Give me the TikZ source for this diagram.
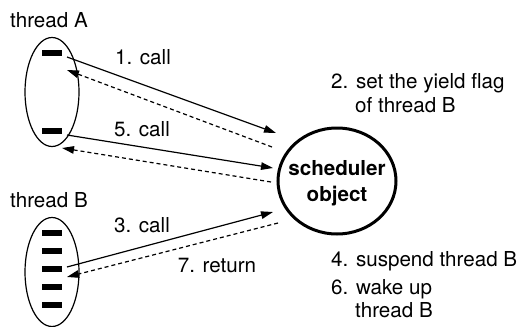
\documentclass[tikz,border=0pt]{standalone}
\usepackage{fontspec}
\setmainfont{TeX Gyre Heros}
\usetikzlibrary{arrows.meta,shapes.geometric}
\begin{document}
\begin{tikzpicture}[x=1pt,y=-1pt,
  lbl/.style={font=\fontsize{20.6}{24}\selectfont, inner sep=0pt},
  bar/.style={fill=black, minimum width=20pt, minimum height=6pt, inner sep=0pt},
  thr/.style={draw, line width=1.2pt, ellipse, minimum width=54pt, minimum height=109pt, inner sep=0pt},
  call/.style={line width=1.2pt, -{Triangle[length=12pt,width=7.5pt]}},
  ret/.style={line width=1.2pt, dash pattern=on 4pt off 3pt, -{Triangle[length=12pt,width=7.5pt]}}]
\useasboundingbox (0,0) rectangle (520,327);
% thread A
\node[lbl] (tA) at (49,20) {thread A};
\node[thr] (eA) at (52,92) {};
\node[bar] (a1) at (52,53) {};
\node[bar] (a2) at (52,131) {};
% thread B
\node[lbl] (tB) at (49,200) {thread B};
\node[thr] (eB) at (52,272) {};
\foreach \i/\y in {1/233,2/251,3/269,4/287,5/305}
  \node[bar] (b\i) at (52,\y) {};
% scheduler
\node[draw, ellipse, line width=3pt, minimum width=118pt, minimum height=106pt, inner sep=0pt] (sch) at (337,181) {};
\node[lbl, font=\fontsize{20.6}{26}\selectfont\bfseries, align=center] (schT) at (337,183) {scheduler\\object};
% endpoints
\coordinate (c1s) at (67,57);  \coordinate (c1e) at (276,133);
\coordinate (r1s) at (272,147); \coordinate (r1e) at (67,70);
\coordinate (c5s) at (67,135); \coordinate (c5e) at (273,168);
\coordinate (r5s) at (271,182); \coordinate (r5e) at (62,148);
\coordinate (c3s) at (67,267); \coordinate (c3e) at (273,212);
\coordinate (r7s) at (278,223); \coordinate (r7e) at (67,277);
\draw[call] (c1s) -- (c1e);
\draw[ret] (r1s) -- (r1e);
\draw[call] (c5s) -- (c5e);
\draw[ret] (r5s) -- (r5e);
\draw[call] (c3s) -- (c3e);
\draw[ret] (r7s) -- (r7e);
% arrow labels
\node[lbl] (l1) at (143,57) {1. call};
\node[lbl] (l5) at (142,129) {5. call};
\node[lbl] (l3) at (142,225) {3. call};
\node[lbl] (l7) at (217,266) {7. return};
% right texts
\node[lbl, anchor=base west] (s2) at (331,88) {2. set the yield flag};
\node[lbl, anchor=base west] (s2b) at (355,112) {of thread B};
\node[lbl, anchor=base west] (s4) at (331,266) {4. suspend thread B};
\node[lbl, anchor=base west] (s6) at (331,294) {6. wake up};
\node[lbl, anchor=base west] (s6b) at (355,317) {thread B};
\end{tikzpicture}
\end{document}
